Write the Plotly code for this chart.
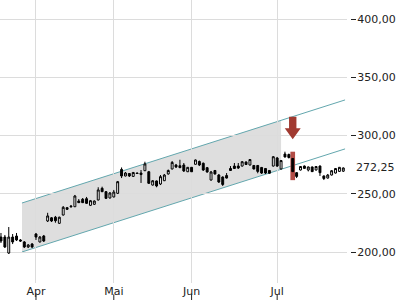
import plotly.graph_objects as go

# ---- data ----
open_ = [213.0, 213.0, 199.3, 213.0, 213.9, 210.5, 208.8, 204.5, 207.0, 215.6,
         208.8, 213.9, 226.8, 229.5, 230.0, 224.8, 231.9, 238.2, 239.6, 239.0,
         243.9, 245.4, 245.9, 240.2, 241.1, 244.8, 254.8, 251.9, 246.5, 247.4,
         250.5, 271.0, 265.4, 267.5, 265.0, 267.9, 267.9, 269.9, 269.0, 257.6,
         261.1, 258.5, 261.3, 267.1, 271.4, 274.8, 274.2, 274.8, 269.0, 272.8,
         275.4, 277.8, 276.3, 272.5, 261.9, 270.1, 266.2, 264.5, 265.8, 271.8,
         273.9, 273.9, 273.9, 277.4, 274.8, 274.4, 274.4, 272.7, 271.8, 270.1,
         273.9, 280.8, 271.4, 284.2, 283.8, 280.4, 268.2, 270.5, 273.9, 270.5,
         273.1, 270.5, 273.9, 265.4, 263.6, 266.2, 267.9, 269.3, 269.5]
high = [216.5, 214.8, 221.6, 215.6, 216.5, 211.3, 209.6, 207.0, 207.9, 216.5,
        213.9, 214.8, 233.8, 230.2, 231.1, 230.5, 239.6, 238.8, 240.5, 249.1,
        245.6, 246.5, 247.4, 244.8, 244.4, 255.7, 256.2, 252.5, 251.6, 253.4,
        261.1, 272.7, 268.8, 267.9, 268.8, 268.4, 270.5, 277.6, 269.7, 261.9,
        261.5, 266.2, 267.1, 270.9, 278.2, 275.7, 279.3, 276.5, 273.1, 273.1,
        279.5, 278.6, 276.9, 273.1, 269.7, 270.5, 267.1, 265.0, 267.9, 273.9,
        276.5, 276.5, 278.2, 277.8, 279.9, 274.8, 274.8, 273.1, 272.2, 270.5,
        282.5, 281.7, 279.1, 286.2, 284.6, 280.8, 268.8, 273.9, 274.4, 273.5,
        273.5, 273.9, 274.4, 265.8, 267.1, 270.5, 272.2, 273.1, 272.7]
low = [207.9, 203.6, 198.5, 207.0, 209.6, 208.8, 203.6, 203.6, 203.6, 210.5,
       208.4, 208.8, 225.9, 225.9, 225.3, 224.3, 231.5, 236.2, 238.4, 238.8,
       242.2, 242.2, 241.4, 239.6, 240.5, 244.4, 251.6, 245.6, 246.1, 247.0,
       249.9, 263.6, 265.0, 264.5, 264.5, 267.1, 259.4, 269.7, 258.5, 257.2,
       255.7, 257.6, 261.1, 266.6, 271.0, 272.2, 272.2, 268.8, 268.8, 268.8,
       275.2, 273.9, 269.7, 268.2, 261.5, 266.6, 259.4, 256.8, 263.2, 269.7,
       271.4, 271.4, 273.5, 274.8, 274.4, 271.0, 267.7, 267.1, 267.1, 267.5,
       273.5, 273.1, 271.0, 281.2, 280.4, 268.8, 263.6, 270.1, 271.8, 269.3,
       268.8, 270.1, 265.4, 261.9, 263.2, 265.8, 267.5, 268.8, 268.8]
close = [209.6, 204.5, 213.0, 208.8, 210.5, 209.6, 204.5, 206.2, 204.5, 213.0,
         213.0, 209.6, 231.1, 226.8, 227.0, 230.0, 238.5, 236.8, 239.0, 248.2,
         242.5, 242.5, 241.9, 244.2, 243.9, 253.4, 251.9, 246.2, 250.8, 251.6,
         260.5, 265.4, 267.9, 265.4, 268.4, 267.5, 266.6, 275.7, 259.1, 261.3,
         256.8, 264.8, 266.2, 270.1, 277.0, 273.1, 272.5, 269.7, 272.8, 269.0,
         279.1, 274.8, 270.5, 268.8, 268.8, 267.1, 260.2, 258.1, 263.6, 270.1,
         271.8, 272.2, 277.6, 275.2, 279.5, 271.4, 269.3, 267.9, 267.9, 267.7,
         281.9, 273.9, 278.6, 281.7, 281.2, 269.1, 265.0, 273.5, 271.9, 273.1,
         269.1, 273.5, 268.2, 263.2, 266.2, 269.9, 271.8, 272.8, 272.25]
idx = list(range(len(close)))

month_idx = [9, 29, 49, 71]
month_labels = ["Apr", "Mai", "Jun", "Jul"]

y_ticks = [200, 250, 300, 350, 400]
y_ticktext = ["200,00", "250,00", "300,00", "350,00", "400,00"]
last_price = 272.25
last_label = "272,25"

# trend channel (start index, end index, fill end index) and levels
channel_x = [5.4, 88.45]
channel_upper = [242.2, 330.6]
channel_lower = [200.2, 288.6]
fill_end_x = 72.0
signal_idx = 75

# ---- figure ----
FONT = "DejaVu Sans"
TEAL = "#63a7ae"

def lerp(xs, ys, x):
    return ys[0] + (ys[1] - ys[0]) * (x - xs[0]) / (xs[1] - xs[0])

shapes = []
# channel fill
fu = lerp(channel_x, channel_upper, fill_end_x)
fl = lerp(channel_x, channel_lower, fill_end_x)
shapes.append(dict(type="path", xref="x", yref="y", layer="below",
                   path=f"M {channel_x[0]},{channel_upper[0]} L {fill_end_x},{fu} "
                        f"L {fill_end_x},{fl} L {channel_x[0]},{channel_lower[0]} Z",
                   fillcolor="#dedede", line=dict(width=0)))
# channel lines
for ys in (channel_upper, channel_lower):
    shapes.append(dict(type="line", xref="x", yref="y", layer="below",
                       x0=channel_x[0], x1=channel_x[1], y0=ys[0], y1=ys[1],
                       line=dict(color=TEAL, width=1)))
# highlight of signal candle
sh, sl = high[signal_idx], low[signal_idx]
shapes.append(dict(type="rect", xref="x", yref="y", layer="below",
                   x0=signal_idx - 0.6, x1=signal_idx + 0.6, y0=sl - 7, y1=sh + 5.4,
                   fillcolor="#b24c46", line=dict(width=0)))
# arrow above signal candle
tip, base, top = sh + 16, sh + 25.5, sh + 35.4
hw, sw = 2.05, 0.95
ax = signal_idx
shapes.append(dict(type="path", xref="x", yref="y", layer="above",
                   path=(f"M {ax - sw},{top} L {ax + sw},{top} L {ax + sw},{base} "
                         f"L {ax + hw},{base} L {ax},{tip} L {ax - hw},{base} "
                         f"L {ax - sw},{base} Z"),
                   fillcolor="#a13a31", line=dict(width=0)))
# small tick marks below month labels
for m in month_idx:
    shapes.append(dict(type="line", xref="x", yref="paper", x0=m, x1=m,
                       y0=-0.040, y1=-0.062, line=dict(color="#222222", width=1)))

fig = go.Figure()
fig.add_trace(go.Candlestick(
    x=idx, open=open_, high=high, low=low, close=close,
    increasing=dict(line=dict(color="black", width=1), fillcolor="white"),
    decreasing=dict(line=dict(color="black", width=1), fillcolor="black"),
    whiskerwidth=0, showlegend=False, hoverinfo="skip"))

fig.update_layout(
    width=400, height=300,
    margin=dict(l=0, r=0, t=0, b=17, pad=0),
    paper_bgcolor="white", plot_bgcolor="white",
    font=dict(family=FONT, size=11, color="#222222"),
    showlegend=False,
    shapes=shapes,
    xaxis=dict(range=[-0.25, 88.95], domain=[0, 0.8675],
               rangeslider=dict(visible=False),
               tickmode="array", tickvals=month_idx, ticktext=month_labels,
               showgrid=True, gridcolor="#dcdcdc", gridwidth=1,
               ticks="", showline=False, zeroline=False,
               tickfont=dict(family=FONT, size=11, color="#222222")),
    yaxis=dict(range=[173.6, 416.3], side="right", anchor="free", position=0.875,
               tickmode="array", tickvals=y_ticks, ticktext=y_ticktext,
               ticks="outside", ticklen=5, tickcolor="#222222", tickwidth=1,
               ticklabelstandoff=-1,
               showgrid=True, gridcolor="#dcdcdc", gridwidth=1,
               showline=False, zeroline=False, automargin=False,
               tickfont=dict(family=FONT, size=11, color="#222222")),
    annotations=[dict(xref="paper", yref="y", x=0.875, y=last_price,
                      text=last_label, showarrow=False, xanchor="left",
                      xshift=4, font=dict(family=FONT, size=11, color="#222222"))],
)

fig.write_html("out.html")
